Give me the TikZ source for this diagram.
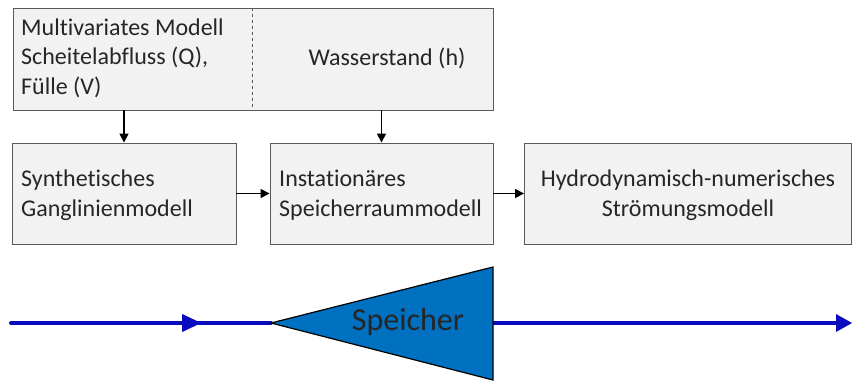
\documentclass[tikz,border=0pt]{standalone}
\usepackage{fontspec}
\setmainfont{Carlito}[Ligatures=NoCommon]
\usetikzlibrary{arrows.meta,decorations.markings}
\definecolor{boxfill}{HTML}{F2F2F2}
\definecolor{boxdraw}{HTML}{5A5A5A}
\definecolor{flowblue}{HTML}{0A0ABE}
\definecolor{storeblue}{HTML}{0070C0}
\tikzset{
  box/.style={draw=boxdraw, fill=boxfill, line width=0.9pt, inner sep=0pt},
  txt/.style={font=\fontsize{24}{29.5}\selectfont, inner sep=0pt, text=black!85},
  arr/.style={line width=1.6pt, -{Triangle[length=9pt,width=9pt]}},
  flow/.style={draw=flowblue, line width=4pt},
}
\begin{document}
\begin{tikzpicture}[x=1pt,y=-1pt]
\useasboundingbox (0,0) rectangle (852,381);
% top box
\node[box, minimum width=480pt, minimum height=102pt] (top) at (253,59) {};
\draw[boxdraw, line width=0.9pt, dashed] (top.north -| 252,0) -- (top.south -| 252,0);
\node[txt, anchor=west, align=left] (tl) at (21,58) {Multivariates Modell\\Scheitelabfluss (Q),\\Fülle (V)};
\node[txt] (tr) at (387,58) {Wasserstand (h)};
% row of models
\node[box, minimum width=224pt, minimum height=101pt] (b1) at (124,193.5) {};
\node[box, minimum width=223pt, minimum height=101pt] (b2) at (381.5,193.5) {};
\node[box, minimum width=327pt, minimum height=101pt] (b3) at (688,193.5) {};
\node[txt, anchor=west, align=left] (t1) at (21,195) {Synthetisches\\Ganglinienmodell};
\node[txt, anchor=west, align=left] (t2) at (279,195) {Instationäres\\Speicherraummodell};
\node[txt, align=center] (t3) at (688,195) {Hydrodynamisch-numerisches\\Strömungsmodell};
% arrows
\draw[arr] (b1.north |- top.south) -- (b1.north);
\draw[arr] (b2.north |- top.south) -- (b2.north);
\draw[arr] (b1.east) -- (b2.west);
\draw[arr] (b2.east) -- (b3.west);
% river and storage
\coordinate (s0) at (11,323);
\coordinate (sl) at (271,323);
\coordinate (st) at (493,267);
\coordinate (sb) at (493,380);
\coordinate (sr) at (493,323);
\coordinate (se) at (852,323);
\draw[flow, line cap=round, postaction={decorate},
  decoration={markings, mark=at position 0.72 with {\fill[flowblue] (-16pt,-9pt) -- (3pt,0) -- (-16pt,9pt) -- cycle;}}] (s0) -- (sl);
\draw[flow] (sr) -- ([xshift=-14pt]se);
\fill[flowblue] (se) -- ++(-16pt,-9pt) -- ++(0,18pt) -- cycle;
\draw[fill=storeblue, line width=1.2pt, line join=miter] (sl) -- (st) -- (sb) -- cycle;
\node[font=\fontsize{32}{34}\selectfont, inner sep=0pt, text=black!85] (sp) at (408,322) {Speicher};
\end{tikzpicture}
\end{document}
